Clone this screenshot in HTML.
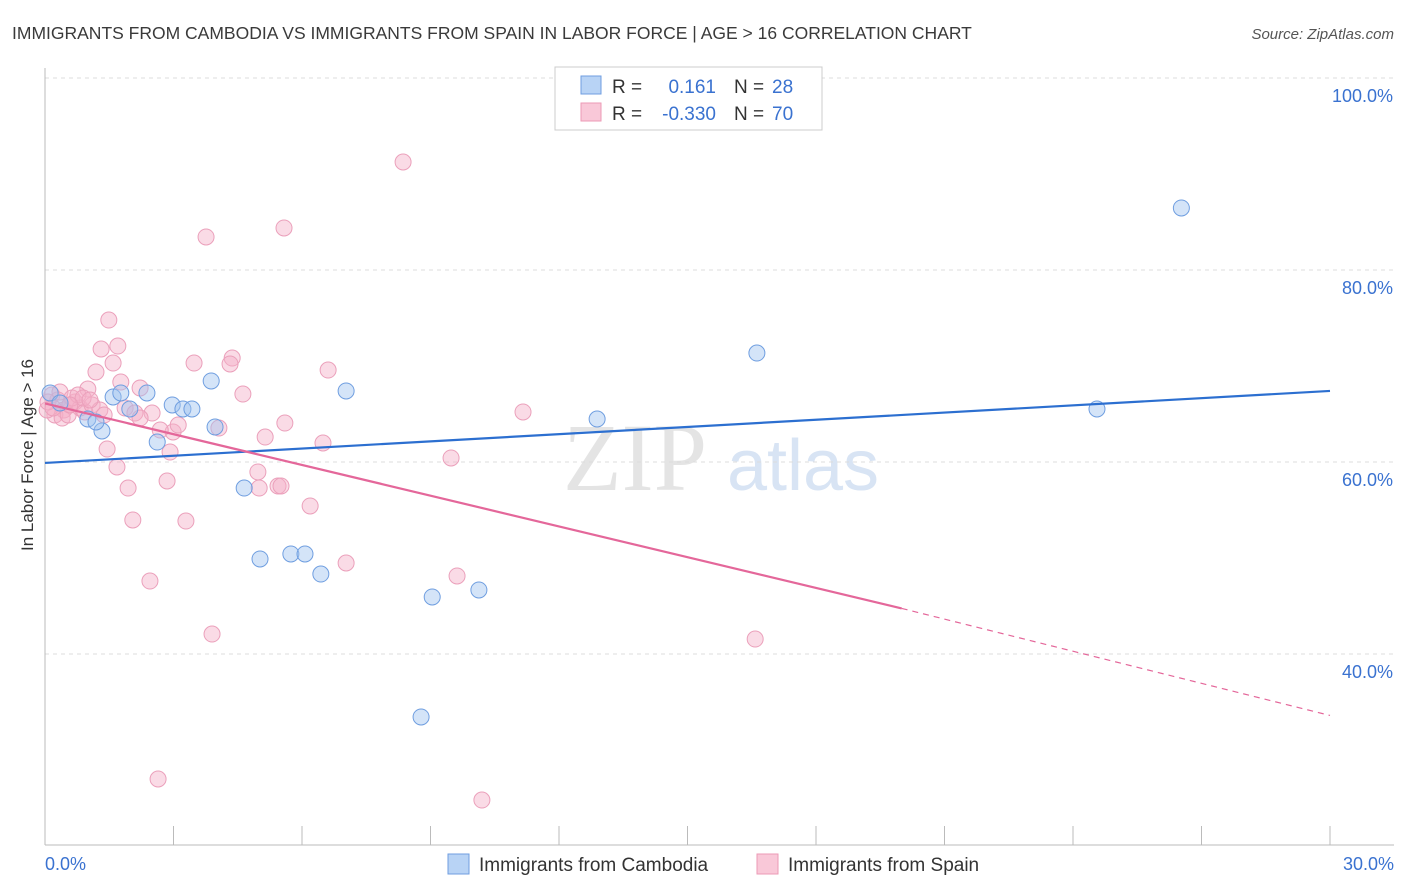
<!DOCTYPE html>
<html><head><meta charset="utf-8">
<style>
body{margin:0;width:1406px;height:892px;background:#fff;font-family:"Liberation Sans",sans-serif;overflow:hidden}
svg{position:absolute;left:0;top:0}
</style></head>
<body>
<svg width="1406" height="892" id="chart">
<text x="12" y="39" font-size="17.5" fill="#3a3a3a">IMMIGRANTS FROM CAMBODIA VS IMMIGRANTS FROM SPAIN IN LABOR FORCE | AGE &gt; 16 CORRELATION CHART</text>
<text x="1394" y="39" font-size="15" fill="#555" text-anchor="end" font-style="italic">Source: ZipAtlas.com</text>
<text transform="translate(33,455) rotate(-90)" font-size="17" fill="#333" text-anchor="middle">In Labor Force | Age &gt; 16</text>
<g>
<text x="635" y="490" font-size="96" fill="#e4e4e4" font-family="Liberation Serif,serif" text-anchor="middle">ZIP</text>
<text x="803" y="490" font-size="72" fill="#d8e4f4" text-anchor="middle">atlas</text>
</g>
<g id="grid"></g>
<g id="axes"></g>
<g id="points"></g>
<g id="trends"></g>
<g>
<rect x="555" y="67" width="267" height="63" fill="#fff" stroke="#ccc"/>
<rect x="581" y="76" width="20" height="18" fill="#b8d3f5" stroke="#6f9ee0"/>
<rect x="581" y="103" width="20" height="18" fill="#f9c8d8" stroke="#ec9ab6"/>
<text x="612" y="93" font-size="19" fill="#333">R =</text>
<text x="716" y="93" font-size="19" fill="#3a72d0" text-anchor="end">0.161</text>
<text x="734" y="93" font-size="19" fill="#333">N =</text>
<text x="772" y="93" font-size="19" fill="#3a72d0">28</text>
<text x="612" y="120" font-size="19" fill="#333">R =</text>
<text x="716" y="120" font-size="19" fill="#3a72d0" text-anchor="end">-0.330</text>
<text x="734" y="120" font-size="19" fill="#333">N =</text>
<text x="772" y="120" font-size="19" fill="#3a72d0">70</text>
</g>
<g>
<rect x="448" y="854" width="21" height="20" fill="#b8d3f5" stroke="#6f9ee0"/>
<text x="479" y="871" font-size="19" fill="#333">Immigrants from Cambodia</text>
<rect x="757" y="854" width="21" height="20" fill="#f9c8d8" stroke="#ec9ab6"/>
<text x="788" y="871" font-size="19" fill="#333">Immigrants from Spain</text>
</g>
</svg>
<script>
const yTicks=[100,80,60,40];
const yTickLabels=["100.0%","80.0%","60.0%","40.0%"];
const xTickLabels=["0.0%","30.0%"];
const cambodiaX=[26.53,16.62,24.56,12.89,7.03,3.88,2.97,3.22,3.43,2.38,1.98,1.59,1.77,1.33,1.00,1.19,2.62,3.97,4.65,5.02,5.74,6.07,6.44,9.04,10.13,8.78,0.12,0.35];
const cambodiaY=[86.46,71.35,65.52,64.48,67.40,68.44,65.94,65.52,65.52,67.19,65.52,66.77,67.19,63.23,64.48,64.17,62.08,63.65,57.29,49.90,50.42,50.42,48.33,45.94,46.67,33.44,67.19,66.15];
const spainX=[8.36,5.58,3.76,1.49,1.31,1.70,1.59,3.48,4.37,4.32,1.19,1.77,1.00,2.22,4.62,6.61,11.16,5.60,5.14,4.06,2.99,3.11,2.50,1.45,2.92,1.68,1.94,2.85,4.97,5.44,5.51,5.00,6.19,2.05,3.29,9.48,6.49,2.45,7.03,9.62,3.90,16.58,2.64,10.20,0.16,0.30,0.44,0.58,0.70,0.82,0.93,0.23,0.40,0.05,1.10,1.28,1.38,1.87,2.10,2.22,2.69,0.07,0.19,0.35,0.54,0.63,0.77,0.89,1.05,0.58];
const spainY=[91.25,84.38,83.44,74.79,71.77,72.08,70.31,70.31,70.83,70.21,69.38,68.33,67.60,67.71,67.08,69.58,65.21,64.06,62.60,63.54,63.13,63.85,65.10,61.35,61.04,59.48,57.29,58.02,58.96,57.50,57.50,57.29,55.42,53.96,53.85,60.42,61.98,47.60,49.48,48.13,42.08,41.56,26.98,24.79,66.98,66.46,65.42,65.94,66.25,65.63,65.21,64.90,64.58,65.42,65.94,65.42,64.90,65.63,65.10,64.58,63.33,66.25,65.63,67.29,64.90,66.67,66.98,66.67,66.46,65.94];
const cambodiaTrendX=[0,30];
const cambodiaTrendY=[59.9,67.4];
const spainTrendX=[0,20,30];
const spainTrendY=[66.1,44.75,33.6];

const NS="http://www.w3.org/2000/svg";
const xs=v=>45+v/30*1285;
const ys=v=>78+(100-v)*9.6;
function mk(tag,attrs,parent){const e=document.createElementNS(NS,tag);for(const k in attrs)e.setAttribute(k,attrs[k]);document.getElementById(parent).appendChild(e);return e;}

yTicks.forEach((t,i)=>{
  const l=mk('line',{x1:45,x2:1394,y1:ys(t),y2:ys(t),stroke:'#ddd','stroke-dasharray':'4,4'},'grid');
  
  
  const tx=mk('text',{x:1393,y:ys(t)+24,'font-size':18,fill:'#3a72d0','text-anchor':'end'},'grid');
  tx.textContent=yTickLabels[i];
  
  
});
const ax=mk('line',{x1:45,x2:45,y1:68,y2:845,stroke:'#bbb'},'axes');


const bx=mk('line',{x1:45,x2:1394,y1:845,y2:845,stroke:'#bbb'},'axes');


for(let i=0;i<=10;i++){
  const t=mk('line',{x1:xs(i*3),x2:xs(i*3),y1:826,y2:845,stroke:'#bbb'},'axes');
  
  
}
[[0,'start',45],[30,'end',1394]].forEach((d,i)=>{
  const t=mk('text',{x:d[2],y:870,'font-size':18,fill:'#3a72d0','text-anchor':d[1]},'axes');
  t.textContent=xTickLabels[i];
  
  
});
spainX.forEach((x,i)=>{
  const c=mk('circle',{cx:xs(x),cy:ys(spainY[i]),r:8,fill:'rgba(245,175,200,0.45)',stroke:'#eba0bb','stroke-width':1},'points');
  
  
});
cambodiaX.forEach((x,i)=>{
  const c=mk('circle',{cx:xs(x),cy:ys(cambodiaY[i]),r:8,fill:'rgba(160,195,240,0.45)',stroke:'#6f9ee0','stroke-width':1},'points');
  
  
});
const bl=mk('line',{x1:xs(cambodiaTrendX[0]),y1:ys(cambodiaTrendY[0]),x2:xs(cambodiaTrendX[1]),y2:ys(cambodiaTrendY[1]),stroke:'#2c6fd0','stroke-width':2.2},'trends');


const pl=mk('line',{x1:xs(spainTrendX[0]),y1:ys(spainTrendY[0]),x2:xs(spainTrendX[1]),y2:ys(spainTrendY[1]),stroke:'#e4679a','stroke-width':2.2},'trends');


const pd=mk('line',{x1:xs(spainTrendX[1]),y1:ys(spainTrendY[1]),x2:xs(spainTrendX[2]),y2:ys(spainTrendY[2]),stroke:'#e4679a','stroke-width':1.2,'stroke-dasharray':'6,5'},'trends');


</script>
</body></html>
